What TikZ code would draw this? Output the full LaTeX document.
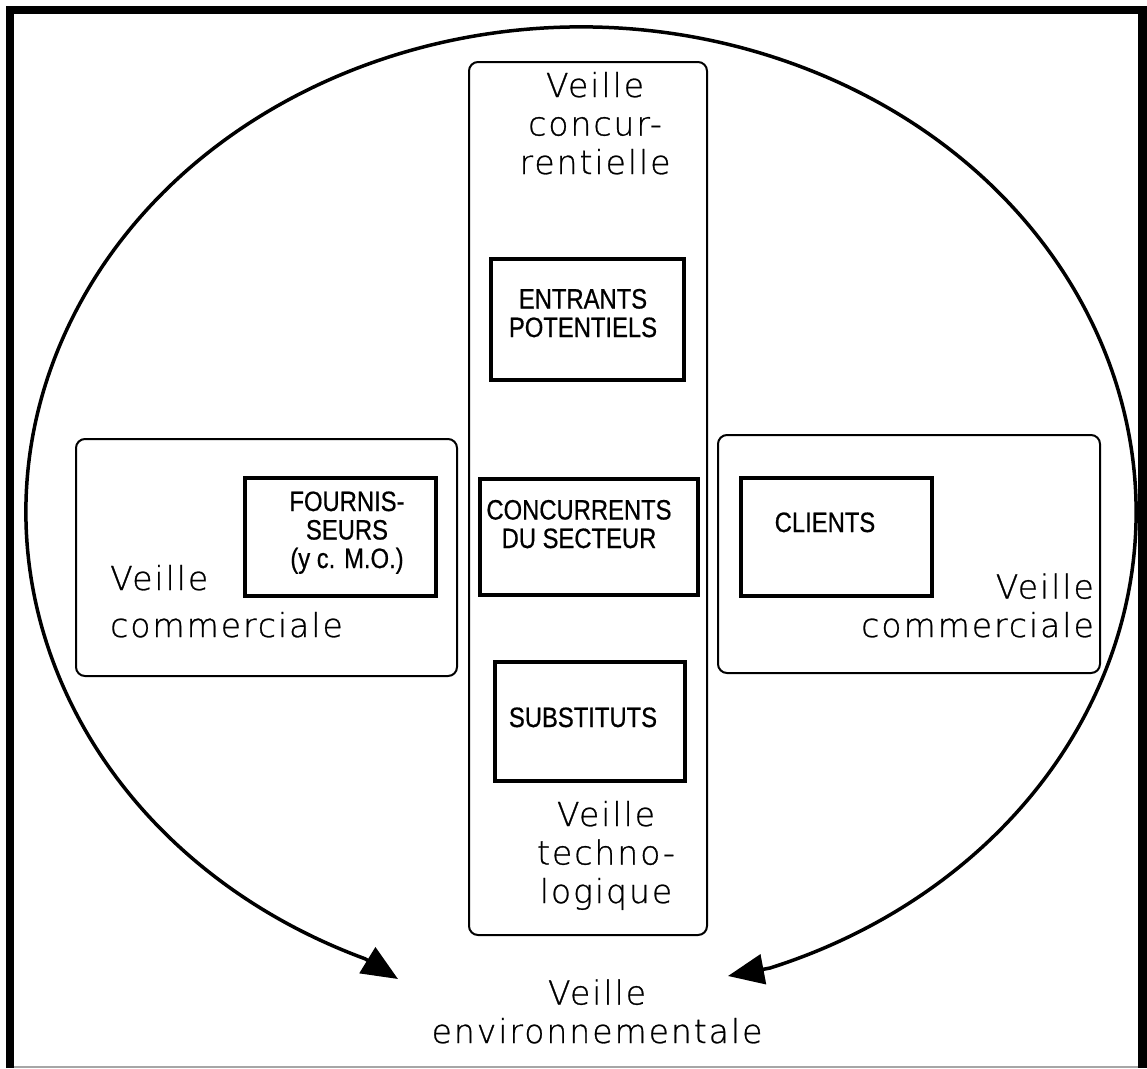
\documentclass[tikz,border=0pt]{standalone}
\usepackage{fontspec}
\setmainfont{DejaVu Sans}
\newfontfamily\lblfont[LetterSpace=6,FakeBold=0.8]{DejaVu Sans ExtraLight}
\newfontfamily\boxfont[FakeStretch=0.85,FakeBold=0.6]{Liberation Sans}
\usetikzlibrary{arrows.meta,calc}
\begin{document}
\begin{tikzpicture}[x=1pt,y=-1pt,
  biglabel/.style={font=\lblfont\fontsize{33}{38.5}\selectfont, inner sep=0pt, align=center, anchor=base},
  boxcaption/.style={font=\boxfont\fontsize{28}{28.5}\selectfont, inner sep=0pt, align=center, anchor=base},
  thickbox/.style={draw, line width=4.5pt, rectangle, inner sep=0pt},
  roundbox/.style={draw, line width=2pt, rounded corners=9pt, rectangle, inner sep=0pt},
  windowframe/.style={line width=8.5pt},
  ringarc/.style={line width=3.5pt, {Triangle[length=36pt,width=30pt]}-{Triangle[length=36pt,width=30pt]}}
]
\useasboundingbox (0,0) rectangle (1147,1068);
\fill[white] (0,0) rectangle (1147,1068);
% window frame
\draw[windowframe] (10,1068) -- (10,10) -- (1142.5,10) -- (1142.5,1068);
\draw[line width=1.5pt, black!35] (14,1067) -- (1138,1067);

% outer arc (veille environnementale)
\coordinate (c) at (581,512);
\coordinate (tipL) at (398,979);
\coordinate (tipR) at (728,976);
\draw[ringarc] (tipL) -- ($(c)+(112.9:555 and 485)$)
  arc[start angle=112.9, end angle=430.1, x radius=555, y radius=485] -- (tipR);

% rounded boxes
\node[roundbox, minimum width=238pt, minimum height=873pt] (vert) at (588,498.5) {};
\node[roundbox, minimum width=381pt, minimum height=237pt] (lcom) at (266.5,557.5) {};
\node[roundbox, minimum width=382pt, minimum height=238pt] (rcom) at (909,554) {};

% thick boxes
\node[thickbox, minimum width=193pt, minimum height=121pt] (entr) at (587.5,319.5) {};
\node[thickbox, minimum width=218pt, minimum height=116pt] (conc) at (589,537) {};
\node[thickbox, minimum width=190pt, minimum height=119pt] (subs) at (590,721.5) {};
\node[thickbox, minimum width=191pt, minimum height=118pt] (four) at (340.5,537) {};
\node[thickbox, minimum width=191pt, minimum height=118pt] (clie) at (836.5,537) {};

% box captions (anchor = baseline of last line)
\node[boxcaption] (tentr) at (583,337) {ENTRANTS\\POTENTIELS};
\node[boxcaption] (tconc) at (579,548) {CONCURRENTS\\DU SECTEUR};
\node[boxcaption] (tsubs) at (583,727) {SUBSTITUTS};
\node[boxcaption] (tfour) at (347,568) {FOURNIS-\\SEURS\\(y c. M.O.)};
\node[boxcaption] (tclie) at (825,532) {CLIENTS};

% big labels (anchor = baseline of last line)
\node[biglabel] (lconc) at (595,174) {Veille\\concur-\\rentielle};
\node[biglabel] (ltech) at (606,903) {Veille\\techno-\\logique};
\node[biglabel] (lenv) at (597,1043) {Veille\\environnementale};
\node[biglabel, align=left, anchor=base west] (lcoml) at (110,637) {Veille\\[8.5pt]commerciale};
\node[biglabel, align=right, anchor=base east] (lcomr) at (1094,637) {Veille\\commerciale};
\end{tikzpicture}
\end{document}
